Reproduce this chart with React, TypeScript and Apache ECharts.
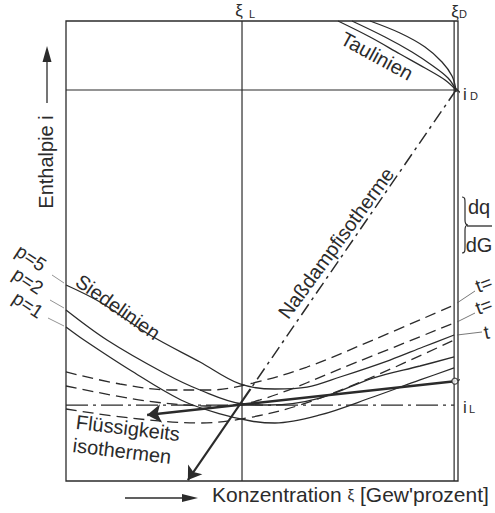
import React, { useEffect, useRef } from 'react';
import * as echarts from 'echarts';

// axis ranges (concentration ξ in %, enthalpy i in arbitrary units)
const XI_MAX = 101;
const I_MAX = 100;
const xiL = 45.35;
const xiD = 100.5;
const iD = 85;
const iL = 16.5;
const xiFrame = 100;

// Taulinien (dew lines)
const tauLine1 = [[70.09, 100], [78.33, 96.52], [86.06, 92.83], [92.5, 89.78], [97.66, 87.17], [100.5, 85]];
const tauLine2 = [[73.69, 100], [82.19, 96.52], [89.15, 93.26], [94.56, 90.22], [98.43, 87.61], [100.5, 85]];
const tauLine3 = [[78.33, 100], [86.06, 97.39], [92.5, 94.35], [96.88, 91.09], [99.46, 88.04], [100.5, 85]];

// Siedelinien (boiling lines) p = 5, 2, 1
const siedeP5 = [[0, 42.61], [8.76, 38.91], [21.64, 31.74], [34.53, 25.87], [44.83, 21.09], [53.85, 20.0], [62.09, 20.43], [70.6, 22.61], [83.48, 26.3], [91.99, 29.13], [100, 31.74]];
const siedeP2 = [[0, 37.17], [10.56, 30.65], [25.25, 23.48], [34.53, 19.78], [45.61, 16.74], [52.56, 16.52], [65.45, 18.04], [79.1, 22.39], [91.21, 25.0], [100, 26.96]];
const siedeP1 = [[0, 33.48], [4.64, 30.65], [16.49, 24.13], [29.63, 17.61], [39.68, 14.57], [47.67, 13.04], [53.85, 12.61], [65.45, 14.35], [79.1, 18.26], [91.21, 21.96], [100, 24.57]];

// Flüssigkeitsisothermen (liquid isotherms)
const isoA = [[0, 23.7], [13.91, 21.09], [26.8, 19.78], [37.1, 19.78], [48.18, 21.3], [62.1, 24.78], [79.1, 30.65], [100, 38.26]];
const isoB = [[0, 20.65], [20.87, 17.39], [38.39, 16.3], [49.99, 17.61], [74.98, 25.87], [100, 34.35]];
const isoC = [[0, 15.65], [16.49, 13.7], [34.53, 12.61], [46.64, 13.7], [60.29, 16.52], [78.33, 22.39], [100, 30.65]];

// Naßdampfisotherme and heat line
const nassStart = [xiD, iD];
const nassMid = [47.53, 20];
const nassEnd = [31.4, 0.2];
const heavyStart = [100.2, 21.7];
const heavyEnd = [20.9, 14.35];
const innerLine = [[100.75, 85], [101.6, 84.4], [102, 83], [102, 23.2], [101.6, 22.1], [100.2, 21.7]];

const pLabels = ['p=5', 'p=2', 'p=1'];
const tLabels = ['t=', 't=', 't'];

const C = '#2b2b2b';
const FONT = '"Liberation Sans", Arial, sans-serif';

echarts.graphic.registerShape(
  'brace',
  echarts.graphic.extendPath(
    'M0,0 C3,0 3,2 3,6 L3,23 C3,26 4,28 6,28 C4,28 3,30 3,33 L3,50 C3,54 3,56 0,56',
    {}
  )
);

function txt(text: string, x: number, y: number, size: number, rotation = 0, align = 'center', extra: any = {}) {
  return {
    type: 'text',
    x,
    y,
    rotation,
    silent: true,
    style: { text, fill: C, fontSize: size, fontFamily: FONT, align, verticalAlign: 'middle', ...extra },
  };
}
function ln(x1: number, y1: number, x2: number, y2: number, w = 1.2, color = C) {
  return { type: 'line', silent: true, shape: { x1, y1, x2, y2 }, style: { stroke: color, lineWidth: w } };
}

export default function App() {
  const ref = useRef<HTMLDivElement>(null);
  useEffect(() => {
    document.body.style.margin = '0';
    const chart = echarts.init(ref.current!, null, { renderer: 'svg' });
    const base = { type: 'line', symbol: 'none', silent: true, clip: false, smooth: 0.35 };
    const solid = (data: number[][], w = 1.3) => ({ ...base, data, lineStyle: { color: C, width: w } });
    const dashed = (data: number[][]) => ({ ...base, data, lineStyle: { color: C, width: 1.3, type: [11, 6] } });
    const straight = (data: number[][], w = 1.2, type: any = 'solid') => ({ ...base, smooth: false, data, lineStyle: { color: C, width: w, type } });

    chart.setOption({
      animation: false,
      backgroundColor: '#ffffff',
      grid: { left: 66, top: 21, width: 392, height: 460, show: true, borderColor: C, borderWidth: 1.3, backgroundColor: 'transparent' },
      xAxis: { type: 'value', min: 0, max: XI_MAX, show: false },
      yAxis: { type: 'value', min: 0, max: I_MAX, show: false },
      series: [
        straight([[xiL, 0], [xiL, I_MAX]]),
        straight([[0, iD], [xiFrame, iD]]),
        straight([[xiFrame, 0], [xiFrame, I_MAX]]),
        { ...base, smooth: 0.3, data: innerLine, lineStyle: { color: C, width: 1.2 } },
        straight([[0, iL], [xiFrame, iL]], 1.2, [22, 5, 3, 5]),
        solid(tauLine1),
        solid(tauLine2),
        solid(tauLine3),
        solid(siedeP5),
        solid(siedeP2),
        solid(siedeP1),
        dashed(isoA),
        dashed(isoB),
        dashed(isoC),
        straight([nassStart, nassMid], 1.5, [13, 5, 3, 5]),
        {
          type: 'lines',
          coordinateSystem: 'cartesian2d',
          silent: true,
          symbol: ['none', 'arrow'],
          symbolSize: 13,
          lineStyle: { color: C, width: 2.2, opacity: 1 },
          data: [{ coords: [nassMid, nassEnd] }],
          z: 5,
        },
        {
          type: 'lines',
          coordinateSystem: 'cartesian2d',
          silent: true,
          symbol: ['none', 'arrow'],
          symbolSize: 14,
          lineStyle: { color: C, width: 2.6, opacity: 1 },
          data: [{ coords: [heavyStart, heavyEnd] }],
          z: 5,
        },
        {
          type: 'scatter',
          silent: true,
          clip: false,
          symbolSize: 6,
          itemStyle: { color: '#ffffff', borderColor: C, borderWidth: 1.3 },
          data: [heavyStart],
          z: 6,
        },
        {
          type: 'scatter',
          silent: true,
          clip: false,
          symbolSize: 4,
          itemStyle: { color: C },
          data: [[xiD, iD]],
          z: 6,
        },
      ],
      graphic: [
        // top labels
        txt('ξ', 239, 10, 17),
        txt('L', 252, 14, 11),
        txt('ξ', 455, 11, 17),
        txt('D', 463, 14, 11),
        // i_D and i_L
        txt('i', 465, 94, 17),
        txt('D', 474, 96, 11),
        txt('i', 465, 407, 17),
        txt('L', 472, 409, 11),
        // y axis title with arrow
        txt('Enthalpie i', 46, 162, 20, Math.PI / 2),
        ln(47, 103, 47, 60, 1.3),
        { type: 'polygon', silent: true, shape: { points: [[42.5, 62], [51.5, 62], [47, 46]] }, style: { fill: C } },
        // x axis title with arrow
        ln(125, 498, 184, 498, 1.3),
        { type: 'polygon', silent: true, shape: { points: [[182, 494], [182, 502], [198, 498]] }, style: { fill: C } },
        {
          type: 'text',
          x: 212,
          y: 494,
          silent: true,
          style: {
            text: '{a|Konzentration }{b|ξ}{a| [Gew\'prozent]}',
            fill: C,
            fontFamily: FONT,
            align: 'left',
            verticalAlign: 'middle',
            rich: { a: { fontSize: 21, fontFamily: FONT, fill: C }, b: { fontSize: 15, fontFamily: FONT, fill: C } },
          },
        },
        // curve names
        txt('Taulinien', 377, 56, 20, -0.5),
        txt('Naßdampfisotherme', 336, 243, 20, 0.94),
        txt('Siedelinien', 118, 307, 20, -0.61),
        txt('Flüssigkeits', 128, 428, 20, -0.12),
        txt('isothermen', 122, 451, 20, -0.12),
        // p labels and leaders
        txt(pLabels[0], 31, 258, 19, -0.58),
        txt(pLabels[1], 28, 281, 19, -0.58),
        txt(pLabels[2], 28, 305, 19, -0.58),
        ln(52, 275, 64, 283, 0.8, '#777'),
        ln(50, 300, 64, 308, 0.8, '#777'),
        ln(48, 318, 64, 326, 0.8, '#777'),
        // t labels and leaders
        ln(457, 303, 475, 291, 0.8, '#555'),
        ln(457, 322, 475, 313, 0.8, '#555'),
        ln(457, 335, 482, 332, 0.8, '#555'),
        txt(tLabels[0], 476, 287, 19, 0.35, 'left'),
        txt(tLabels[1], 476, 309, 19, 0.35, 'left'),
        txt(tLabels[2], 484, 333, 19, 0.2, 'left'),
        // dq/dG with brace
        { type: 'brace', x: 462, y: 197, silent: true, style: { stroke: C, fill: 'none', lineWidth: 1.2 } },
        txt('dq', 479, 207, 20),
        ln(467, 226, 492, 226, 1.3),
        txt('dG', 479, 245, 20),
      ],
    });
    return () => chart.dispose();
  }, []);
  return <div ref={ref} style={{ width: 495, height: 513 }} />;
}
